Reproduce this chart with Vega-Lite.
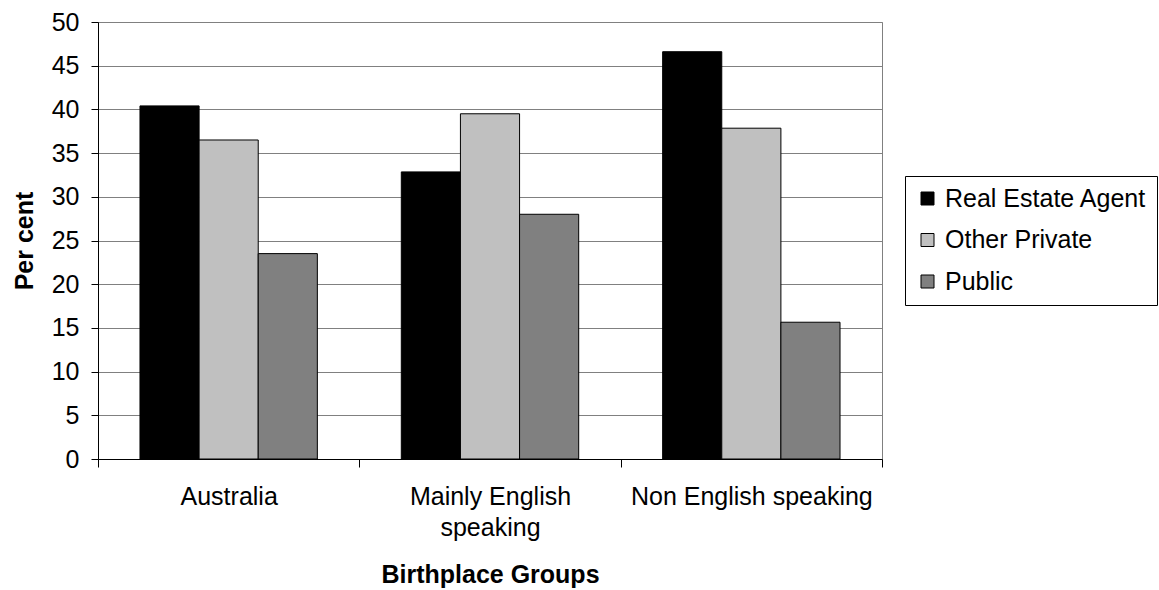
{
  "$schema": "https://vega.github.io/schema/vega-lite/v6.json",
  "autosize": {"type": "none"},
  "padding": {"left": 98, "top": 22, "right": 277, "bottom": 131},
  "width": 784,
  "height": 437,
  "background": "white",
  "config": {
    "font": "Liberation Sans",
    "view": {"stroke": "#808080", "strokeWidth": 1}
  },
  "data": {
    "values": [
      {"group": "Australia", "type": "Real Estate Agent", "pct": 40.4},
      {"group": "Australia", "type": "Other Private", "pct": 36.5},
      {"group": "Australia", "type": "Public", "pct": 23.5},
      {"group": "Mainly English speaking", "type": "Real Estate Agent", "pct": 32.85},
      {"group": "Mainly English speaking", "type": "Other Private", "pct": 39.5},
      {"group": "Mainly English speaking", "type": "Public", "pct": 28.0},
      {"group": "Non English speaking", "type": "Real Estate Agent", "pct": 46.6},
      {"group": "Non English speaking", "type": "Other Private", "pct": 37.85},
      {"group": "Non English speaking", "type": "Public", "pct": 15.65}
    ]
  },
  "mark": {"type": "bar", "stroke": "#000000", "strokeWidth": 1},
  "encoding": {
    "x": {
      "field": "group",
      "type": "nominal",
      "sort": ["Australia", "Mainly English speaking", "Non English speaking"],
      "scale": {"paddingInner": 0, "paddingOuter": 0},
      "axis": {
        "title": "Birthplace Groups",
        "titleFontSize": 25,
        "titleFontWeight": "bold",
        "titleColor": "#000000",
        "titleBaseline": "alphabetic",
        "titleY": 123,
        "labelAngle": 0,
        "labelFontSize": 25,
        "labelColor": "#000000",
        "labelPadding": 17,
        "labelLineHeight": 31,
        "labelLimit": 400,
        "labelOverlap": false,
        "labelExpr": "datum.value == 'Mainly English speaking' ? ['Mainly English', 'speaking'] : datum.value",
        "tickBand": "extent",
        "tickSize": 8,
        "tickColor": "#000000",
        "domainColor": "#000000",
        "grid": false
      }
    },
    "xOffset": {
      "field": "type",
      "type": "nominal",
      "sort": ["Real Estate Agent", "Other Private", "Public"],
      "scale": {"paddingInner": 0, "paddingOuter": 0.71}
    },
    "y": {
      "field": "pct",
      "type": "quantitative",
      "scale": {"domain": [0, 50], "nice": false},
      "axis": {
        "title": "Per cent",
        "titleFontSize": 25,
        "titleFontWeight": "bold",
        "titleColor": "#000000",
        "titleBaseline": "alphabetic",
        "titleX": -66,
        "values": [0, 5, 10, 15, 20, 25, 30, 35, 40, 45, 50],
        "labelFontSize": 25,
        "labelColor": "#000000",
        "labelPadding": 12,
        "tickSize": 7,
        "tickColor": "#000000",
        "domainColor": "#000000",
        "grid": true,
        "gridColor": "#808080",
        "gridOpacity": 1
      }
    },
    "fill": {
      "field": "type",
      "type": "nominal",
      "sort": ["Real Estate Agent", "Other Private", "Public"],
      "scale": {
        "domain": ["Real Estate Agent", "Other Private", "Public"],
        "range": ["#000000", "#C0C0C0", "#808080"]
      },
      "legend": {
        "title": null,
        "orient": "none",
        "legendX": 807,
        "legendY": 154,
        "padding": 10,
        "strokeColor": "#000000",
        "fillColor": "#ffffff",
        "symbolType": "square",
        "symbolSize": 169,
        "symbolStrokeColor": "#000000",
        "symbolStrokeWidth": 1,
        "symbolOpacity": 1,
        "labelFontSize": 25,
        "labelColor": "#000000",
        "labelOffset": 5,
        "rowPadding": 15.5,
        "labelLimit": 400
      }
    }
  }
}
